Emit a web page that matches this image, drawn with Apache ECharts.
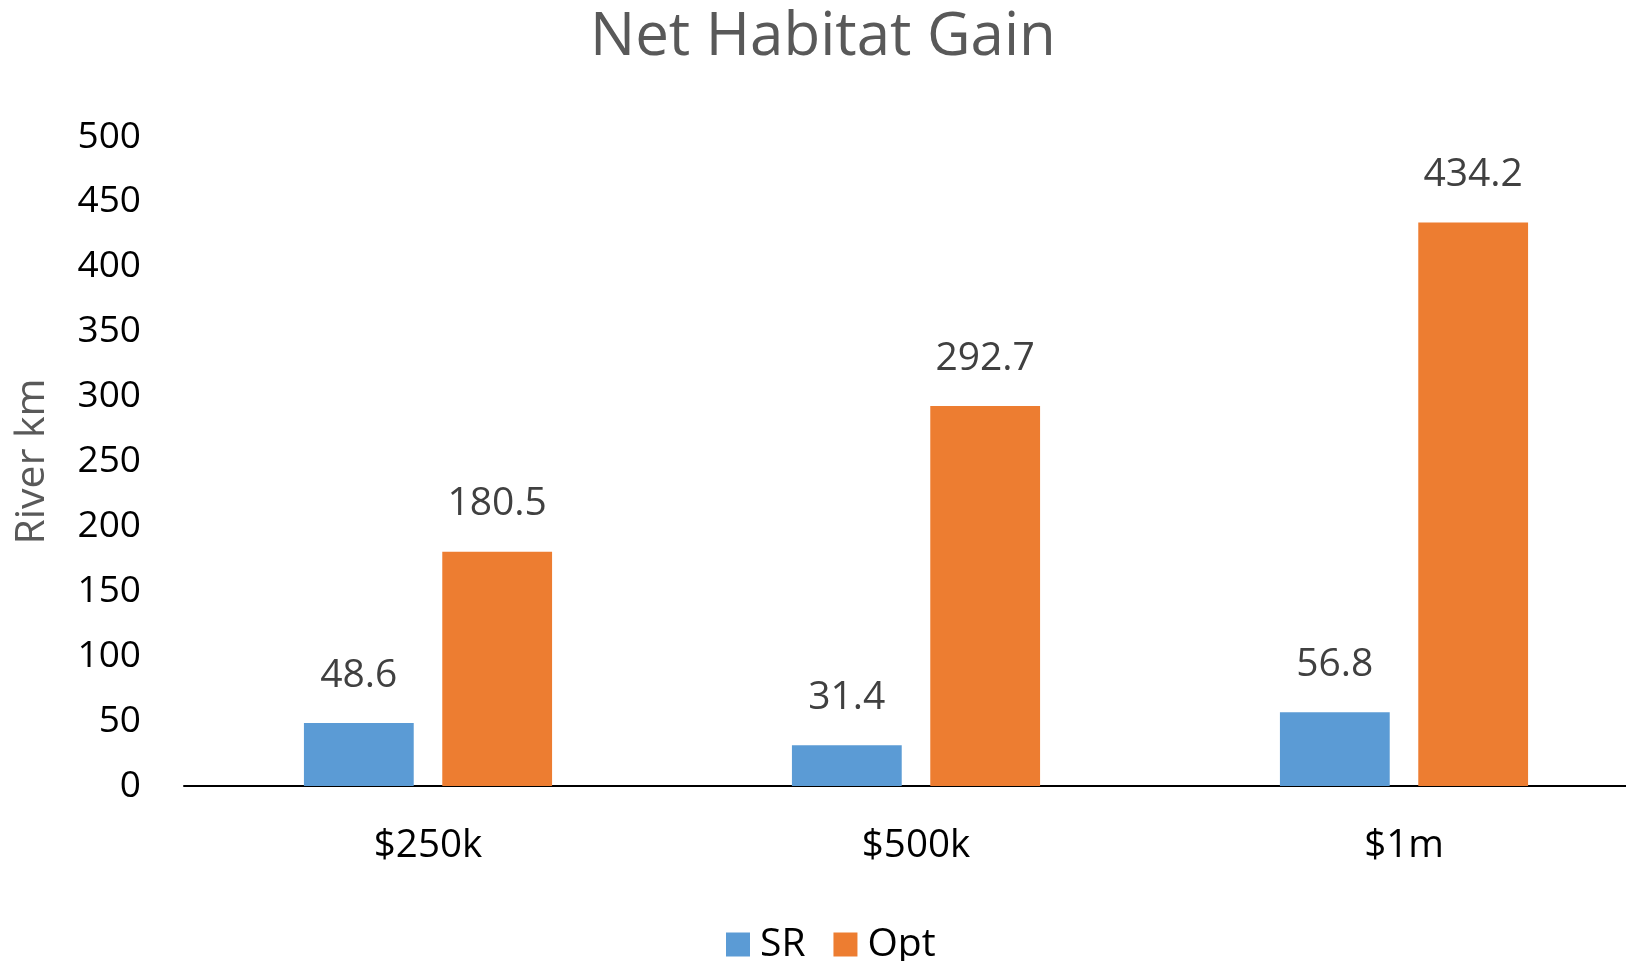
<!DOCTYPE html>
<html>
<head>
<meta charset="utf-8">
<script src="https://cdn.jsdelivr.net/npm/echarts@6/dist/echarts.min.js"></script>
<style>
  html, body { margin: 0; padding: 0; background: #fff; }
  #main { width: 1626px; height: 961px; }
</style>
</head>
<body>
<div id="main"></div>
<script>
// chart data
var categories = ['$250k', '$500k', '$1m'];
var srValues = [48.6, 31.4, 56.8];
var optValues = [180.5, 292.7, 434.2];

var chart = echarts.init(document.getElementById('main'));
var font = 'Open Sans';

var option = {
    animation: false,
    textStyle: { fontFamily: font },
    title: {
        text: 'Net Habitat Gain',
        left: 585,
        top: 3,
        textStyle: { fontSize: 60, fontWeight: 'normal', color: '#595959', fontFamily: font }
    },
    legend: {
        data: ['SR', 'Opt'],
        left: 721,
        top: 920,
        itemWidth: 24,
        itemHeight: 24,
        itemGap: 28,
        icon: 'rect',
        textStyle: { fontSize: 39, color: '#000', fontFamily: font, padding: [0, 0, 0, 5] }
    },
    grid: {
        left: 184,
        width: 1464,
        top: 137,
        bottom: 175,
        outerBoundsMode: 'none'
    },
    xAxis: {
        type: 'category',
        data: categories,
        axisLine: { lineStyle: { color: '#000', width: 2 } },
        axisTick: { show: false },
        axisLabel: { fontSize: 38.5, color: '#000', margin: 41, fontFamily: font }
    },
    yAxis: {
        type: 'value',
        min: 0,
        max: 500,
        interval: 50,
        name: 'River km',
        nameLocation: 'middle',
        nameRotate: 90,
        nameGap: 131,
        nameTextStyle: { fontSize: 41, color: '#595959', fontFamily: font },
        axisLine: { show: false },
        axisTick: { show: false },
        splitLine: { show: false },
        axisLabel: { fontSize: 37, color: '#000', margin: 43, fontFamily: font }
    },
    series: [
        {
            name: 'SR',
            type: 'bar',
            data: srValues,
            barWidth: '22.5%',
            barGap: '26%',
            itemStyle: { color: '#5B9BD5' },
            label: { show: true, position: 'top', distance: 28, fontSize: 39, color: '#404040', fontFamily: font }
        },
        {
            name: 'Opt',
            type: 'bar',
            data: optValues,
            barWidth: '22.5%',
            itemStyle: { color: '#ED7D31' },
            label: { show: true, position: 'top', distance: 28, fontSize: 39, color: '#404040', fontFamily: font }
        }
    ]
};

chart.setOption(option);
</script>
</body>
</html>
